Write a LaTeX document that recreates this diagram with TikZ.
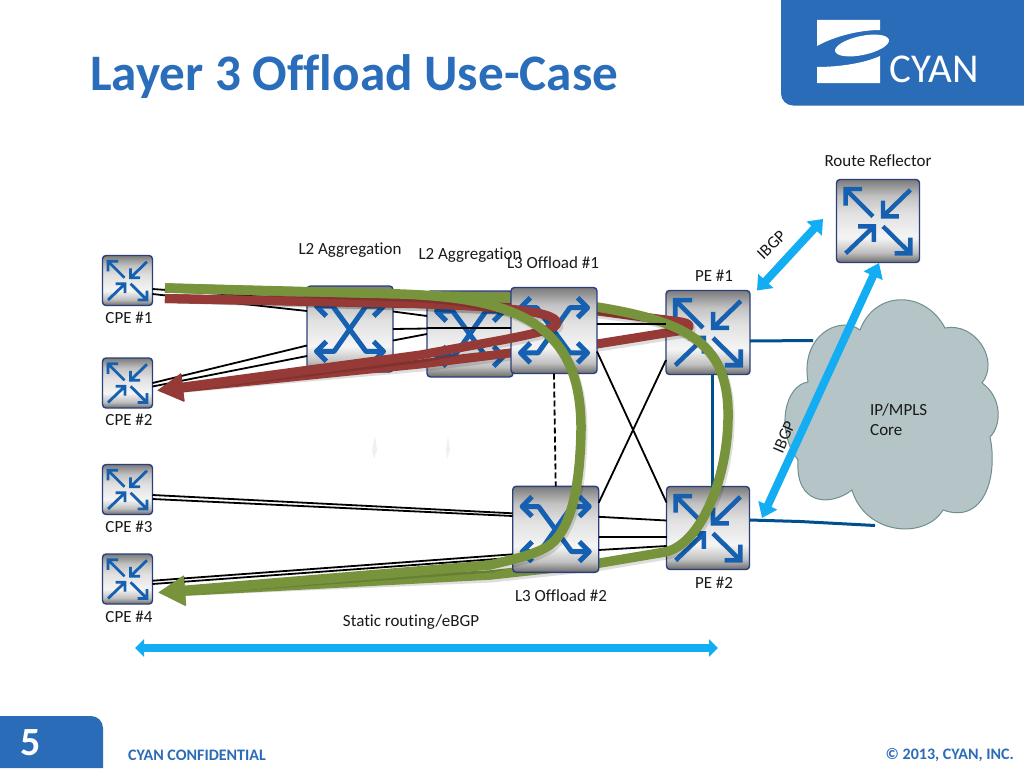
\documentclass[tikz,border=0pt]{standalone}
\usepackage{fontspec}
\setmainfont[Ligatures=NoCommon]{Carlito}
\usetikzlibrary{arrows.meta,calc}
\definecolor{hdr}{HTML}{2B6CB8}
\definecolor{titleblue}{HTML}{2A6EBB}
\definecolor{glyphblue}{HTML}{1560B0}
\definecolor{rborder}{HTML}{2B3F7C}
\definecolor{lkblue}{HTML}{00508F}
\definecolor{sky}{HTML}{12ADF2}
\definecolor{redp}{HTML}{953A36}
\definecolor{greenp}{HTML}{77933C}
\definecolor{cloudf}{HTML}{B5C5C7}
\definecolor{cloudb}{HTML}{6F8F8F}
\pgfdeclareverticalshading{rtrshade}{100bp}{color(0bp)=(black!58);color(25bp)=(black!58);color(31bp)=(black!25);color(40bp)=(black!4);color(55bp)=(black!12);color(65bp)=(black!24);color(75bp)=(black!52);color(100bp)=(black!52)}
\tikzset{
 rtr/.style={draw=rborder,line width=1.4pt,rounded corners=3.5pt,shading=rtrshade,inner sep=0pt,outer sep=0pt,minimum width=#1,minimum height=#1},
 lbl/.style={font=\fontsize{17}{20}\selectfont,inner sep=0pt,text=black!90},
 glyph/.style={draw=glyphblue,line cap=butt,line join=miter},
 lnk/.style={draw=black,line width=1.8pt},
 core/.style={draw=lkblue,line width=3pt},
 skyarrow/.style={draw=sky,line width=#1},
 redflow/.style={draw=redp,line width=9pt,line join=round},
 greenflow/.style={draw=greenp,line width=9.5pt,line join=round},
 castshadow/.style={draw=black,opacity=.13,line width=9pt,line join=round,xshift=2pt,yshift=-3pt},
}
\newcommand\glyphin[3]{\begin{scope}[shift={(#1.center)},x=#2pt,y=-#2pt,line width=#3pt]
 \draw[glyph] (-.12,-.11)--(-.78,-.77) (-.38,-.77)--(-.78,-.77)--(-.78,-.37);
 \draw[glyph] (.78,-.75)--(.12,-.11) (.5,-.11)--(.12,-.11)--(.12,-.49);
 \draw[glyph] (-.78,.78)--(-.1,.13) (-.48,.13)--(-.1,.13)--(-.1,.5);
 \draw[glyph] (.12,.13)--(.78,.78) (.4,.78)--(.78,.78)--(.78,.4);
\end{scope}}
\newcommand\glyphx[3]{\begin{scope}[shift={(#1.center)},x=#2pt,y=-#2pt,line width=#3pt]
 \draw[glyph,line join=round] (-.78,-.53)--(-.4,-.53)--(.37,.52)--(.78,.52);
 \draw[glyph,line join=round] (-.78,.52)--(-.37,.52)--(.37,-.53)--(.78,-.53);
 \draw[glyph,line join=round] (-.55,-.76)--(-.78,-.53)--(-.55,-.3);
 \draw[glyph,line join=round] (-.55,.29)--(-.78,.52)--(-.55,.75);
 \draw[glyph,line join=round] (.55,-.76)--(.78,-.53)--(.55,-.3);
 \draw[glyph,line join=round] (.55,.29)--(.78,.52)--(.55,.75);
\end{scope}}
\newcommand\redA{(redstart) -- (400,303) .. controls (490,306) and (556,310) .. (557,323) .. controls (557,332) and (500,340) .. (420,355) -- (redtip)}
\newcommand\redB{(redstart) -- (430,304) -- (597,311) -- (678,321.5) .. controls (693,323) and (693,329) .. (678,331) -- (597,344) -- (510,353) -- (420,364) -- (redtip)}
\newcommand\greenA{(greenstart) -- (400,294) .. controls (510,298) and (582,320) .. (581,430) .. controls (580,490) and (570,535) .. (545,548) .. controls (530,556) and (510,560) .. (490,565) -- (greentip)}
\newcommand\greenB{(greenstart) -- (511,298) -- (597,307) .. controls (690,322) and (730,345) .. (728,420) .. controls (727,480) and (700,545) .. (665,552) -- (600,563) -- (490,575) -- (greentip)}
\begin{document}
\begin{tikzpicture}[x=1pt,y=-1pt]
\useasboundingbox (0,0) rectangle (1024,768);
\fill[white] (0,0) rectangle (1024,768);
% header
\fill[hdr] (781,0) [rounded corners=12pt] -- (781,105.5) [sharp corners] -- (1024,105.5) -- (1024,0) -- cycle;
\fill[white] (817,20) -- (880,20) -- (880,30) .. controls (860,30) and (835,36) .. (817,46) -- cycle;
\fill[white] (817,67) .. controls (840,67) and (865,63) .. (880,56) -- (880,83) -- (817,83) -- cycle;
\fill[white,rotate around={12:(862,45.5)}] (862,45.5) ellipse[x radius=27.5,y radius=9.5];
\node[font=\fontsize{41}{42}\selectfont,text=white,inner sep=0pt] (logotext) at (934,69) {CYAN};
\node[font=\bfseries\fontsize{51.2}{53}\selectfont,text=titleblue,anchor=west,inner sep=0pt] (title) at (90,76.5) {Layer 3 Offload Use-Case};
% footer
\fill[hdr] (0,716) [rounded corners=12pt] -- (103,716) [sharp corners] -- (103,768) -- (0,768) -- cycle;
\node[font=\bfseries\fontsize{40}{42}\selectfont,text=white,inner sep=0pt] (pageno) at (31,743) {5};
\node[font=\bfseries\fontsize{16}{18}\selectfont,text=hdr,anchor=west,inner sep=0pt] (conf) at (128,755) {CYAN CONFIDENTIAL};
\node[font=\bfseries\fontsize{16}{18}\selectfont,text=hdr,anchor=east,inner sep=0pt] (copy) at (1014,755) {© 2013, CYAN, INC.};
% faint marks
\fill[black!6] (372,450) -- (375,436) -- (377,450) -- (374,459) -- cycle;
\fill[black!6] (446,450) -- (448,436) -- (450,450) -- (447,459) -- cycle;
% cloud
\path[fill=cloudf,draw=cloudb,line width=1pt] (860,330) .. controls (875,290) and (925,290) .. (945,328)
 .. controls (975,322) and (1000,360) .. (982,383)
 .. controls (1002,397) and (1002,425) .. (990,437)
 .. controls (998,475) and (985,525) .. (943,510)
 .. controls (925,540) and (865,535) .. (852,490)
 .. controls (830,507) and (795,505) .. (798,460)
 .. controls (775,430) and (785,385) .. (808,382)
 .. controls (800,335) and (840,315) .. (860,330) -- cycle;
\node[font=\fontsize{17}{20}\selectfont,align=left,anchor=west,inner sep=0pt,text=black!90] (corelabel) at (870,419.5) {IP/MPLS\\Core};
% routers, lower layer
\node[rtr=86pt] (l2a) at (350,329) {};
\glyphx{l2a}{43}{5}
\node[rtr=86pt] (l2b) at (470,334) {};
\glyphx{l2b}{43}{5}
\node[rtr=50pt] (cpe1) at (127.5,280.5) {};
\node[rtr=50pt] (cpe2) at (127.5,383) {};
\node[rtr=50pt] (cpe3) at (127.5,489.5) {};
\node[rtr=50pt] (cpe4) at (127.5,579) {};
\glyphin{cpe1}{25}{2.8}
\glyphin{cpe2}{25}{2.8}
\glyphin{cpe3}{25}{2.8}
\glyphin{cpe4}{25}{2.8}
\node[rtr=84pt] (pe1) at (708,332.5) {};
\node[rtr=83pt] (pe2) at (708,528) {};
\node[rtr=83pt] (rr) at (878,221) {};
\glyphin{pe1}{42}{4.6}
\glyphin{pe2}{41.5}{4.6}
\glyphin{rr}{41.5}{4.4}
% labels
\node[lbl] (tl2a) at (350,250.5) {L2 Aggregation};
\node[lbl] (tl2b) at (470,255) {L2 Aggregation};
\node[lbl] (tcpe1) at (129,318) {CPE \#1};
\node[lbl] (tcpe2) at (129,420) {CPE \#2};
\node[lbl] (tcpe3) at (129,527) {CPE \#3};
\node[lbl] (tcpe4) at (129,617) {CPE \#4};
\node[lbl] (tpe1) at (714,276) {PE \#1};
\node[lbl] (tpe2) at (714,583) {PE \#2};
\node[lbl] (trr) at (878,161) {Route Reflector};
\node[lbl] (tstatic) at (411,622) {Static routing/eBGP};
% links to the core
\draw[core] ([yshift=-8.5pt]pe1.east) -- (813,340.5);
\draw[core] ([yshift=8pt]pe2.east) -- (800,521.5) -- (875,525.5);
\draw[core] (712,374) -- ([xshift=4pt,yshift=-6pt]pe2.north);
% black links, CPE and L2
\draw[lnk] ([yshift=-8.5pt]cpe1.east) -- ([yshift=29pt]l2a.west);
\draw[lnk] ([yshift=-13.5pt]cpe1.east) -- ([yshift=18pt]l2a.west);
\draw[lnk] (cpe2.east) -- ([yshift=-16.5pt]l2a.west);
\draw[lnk] ([yshift=-3.5pt]cpe2.east) -- ([yshift=-27pt]l2a.west);
\draw[lnk] ([yshift=17.5pt]l2a.east) -- ([yshift=18pt]l2b.west);
\draw[lnk] (l2a.east) -- ([yshift=5.5pt]l2b.west);
\draw[lnk] ([yshift=-11.5pt]l2a.east) -- (l2b.west);
% flows under L3 boxes
\coordinate (redstart) at (165,298.5);
\coordinate (redtip) at (157,390.5);
\coordinate (greenstart) at (165,288);
\coordinate (greentip) at (158,592.5);
\tikzset{redtipstyle/.style={-{Triangle[length=26pt,width=26pt]}},greentipstyle/.style={-{Triangle[length=27pt,width=28pt]}}}
\draw[castshadow,redtipstyle] \redB;
\draw[redflow,redtipstyle] \redB;
\draw[castshadow,greentipstyle] \greenB;
\draw[greenflow,greentipstyle] \greenB;
% L3 boxes
\node[rtr=86pt] (l3a) at (554,330.5) {};
\node[rtr=86pt] (l3b) at (555.7,529.3) {};
\glyphx{l3a}{43}{5}
\glyphx{l3b}{43}{5}
\node[lbl] (tl3a) at (553,263) {L3 Offload \#1};
\node[lbl] (tl3b) at (561,596) {L3 Offload \#2};
% links touching L3 boxes
\draw[lnk] (l2b.west |- 0,327.7) -- (l3a.west |- 0,327.7);
\draw[lnk] ([yshift=6.5pt]l3a.east) -- ([yshift=8.5pt]pe1.west);
\draw[lnk] ([yshift=-21pt]l3a.east) -- ([yshift=25.5pt]pe2.west);
\draw[lnk] ([yshift=-27.5pt]pe1.west) -- ([yshift=26.5pt]l3b.east);
\draw[lnk,dashed,dash pattern=on 6pt off 3pt] (l3a.south) -- (l3b.north);
\draw[lnk] ([yshift=12.5pt]l3b.east) -- ([yshift=7.5pt]pe2.west);
\draw[lnk] ([yshift=-8pt]l3b.east) -- ([yshift=-9.3pt]pe2.west);
\draw[lnk] ([yshift=-20.7pt]l3b.east) -- ([yshift=-18pt]pe2.west);
\draw[lnk] ([yshift=-5.5pt]cpe3.east) -- ([yshift=16pt]l3b.west);
\draw[lnk] ([yshift=-9.5pt]cpe3.east) -- ([yshift=13.3pt]l3b.west);
\draw[lnk] ([yshift=-1.7pt]cpe4.east) -- ([yshift=-25pt]l3b.west);
\draw[lnk] ([yshift=-5pt]cpe4.east) -- ([yshift=-28.5pt]l3b.west);
% flows above L3 boxes
\draw[castshadow,redtipstyle] \redA;
\draw[redflow,redtipstyle] \redA;
\draw[castshadow,greentipstyle] \greenA;
\draw[greenflow,greentipstyle] \greenA;
% sky arrows
\coordinate (ibgpa) at (757,290.5);
\coordinate (ibgpb) at (823,219);
\coordinate (ibgpc) at (762,518);
\coordinate (ibgpd) at (879,263);
\coordinate (stl) at (135,648);
\coordinate (str) at (718,648);
\tikzset{skytips/.style n args={2}{{Triangle[length=#1,width=#2]}-{Triangle[length=#1,width=#2]}}}
\draw[skyarrow=8pt,skytips={13pt}{20pt}] (ibgpa) -- (ibgpb);
\draw[skyarrow=8pt,skytips={14pt}{20pt}] (ibgpc) -- (ibgpd);
\draw[skyarrow=8.5pt,skytips={9pt}{17pt}] (stl) -- (str);
\node[lbl,rotate=45] (tib1) at (771.5,245) {IBGP};
\node[lbl,rotate=67] (tib2) at (784,437) {IBGP};
\end{tikzpicture}
\end{document}
